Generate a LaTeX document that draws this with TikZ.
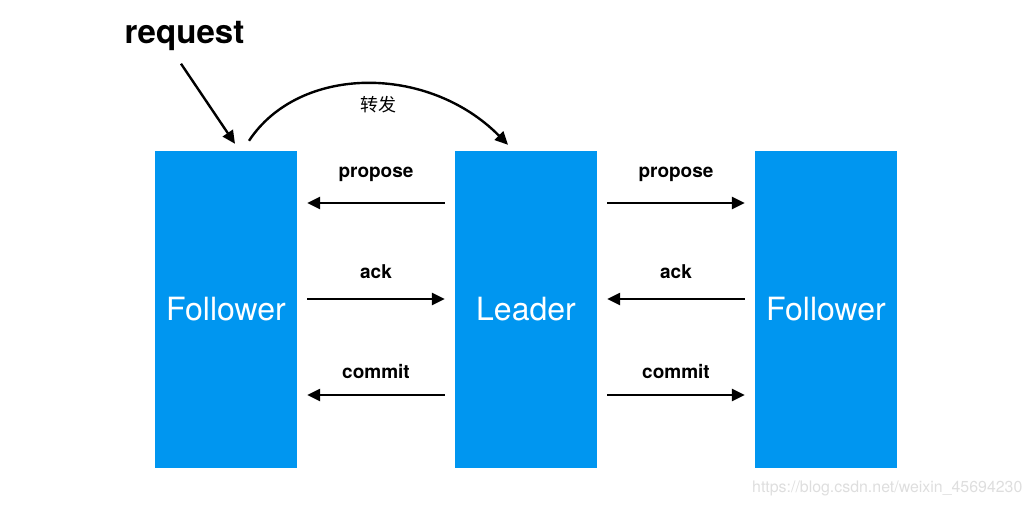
\documentclass[tikz,border=0pt]{standalone}
\usepackage{fontspec}
\setmainfont{TeX Gyre Heros}
\newfontfamily\cjk{Noto Sans CJK SC}
\usetikzlibrary{arrows.meta,positioning}
\definecolor{kek}{RGB}{0,150,240}
\tikzset{
  blokk/.style={fill=kek,minimum width=142pt,minimum height=317pt,inner sep=0pt,
    text=white,font=\fontsize{32}{36}\selectfont},
  nyil/.style={line width=2.4pt,-{Triangle[length=13pt,width=12pt]}},
  felirat/.style={font=\fontsize{19}{22}\selectfont\bfseries},
  koz/.style={shorten >=10pt,shorten <=10pt},
}

\begin{document}
\begin{tikzpicture}[x=1pt,y=1pt]
  \useasboundingbox (0,0) rectangle (1033,-505);
  \node[blokk] (fol1) at (226,-309.5) {Follower};
  \node[blokk] (lead) at (526,-309.5) {Leader};
  \node[blokk] (fol2) at (826,-309.5) {Follower};
  \node[anchor=base,font=\fontsize{33}{38}\selectfont\bfseries] (req) at (184.5,-44) {request};
  \draw[nyil] ([xshift=-3.5pt,yshift=-9pt]req.south) -- ([xshift=9pt,yshift=7pt]fol1.north);
  \draw[nyil] ([xshift=23pt,yshift=10pt]fol1.north) .. controls +(50,76) and +(-80,81) ..
    ([xshift=-18pt,yshift=6pt]lead.north);
  \node[font=\fontsize{18}{20}\selectfont\cjk] (fw) at (378,-105) {转发};
  % propose / commit: leader -> followers
  \foreach \dy/\lb/\txt in {106.5/25/propose, -85.5/17/commit} {
    \draw[nyil,koz] ([yshift=\dy pt]lead.west) -- node[felirat,anchor=base,yshift=\lb pt] {\txt}
      ([yshift=\dy pt]fol1.east);
    \draw[nyil,koz] ([yshift=\dy pt]lead.east) -- node[felirat,anchor=base,yshift=\lb pt] {\txt}
      ([yshift=\dy pt]fol2.west);
  }
  % ack: followers -> leader
  \draw[nyil,koz] ([yshift=10.5pt]fol1.east) -- node[felirat,anchor=base,yshift=21pt] {ack}
    ([yshift=10.5pt]lead.west);
  \draw[nyil,koz] ([yshift=10.5pt]fol2.west) -- node[felirat,anchor=base,yshift=21pt] {ack}
    ([yshift=10.5pt]lead.east);
  \node[anchor=base west,text=black!13,font=\fontsize{15.9}{18}\selectfont,inner sep=0pt]
    (wm) at (752,-492) {https://blog.csdn.net/weixin\_45694230};
\end{tikzpicture}
\end{document}
